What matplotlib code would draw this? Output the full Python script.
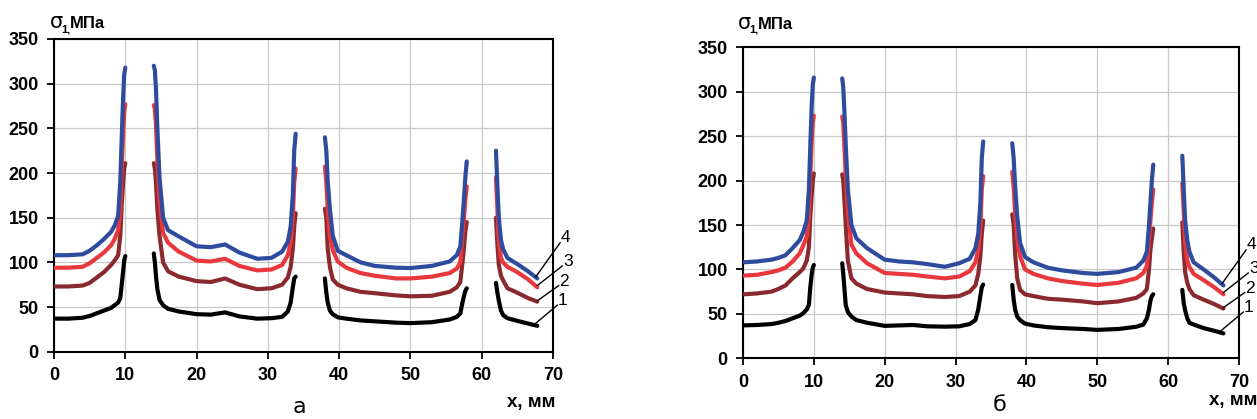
import numpy as np
import matplotlib.pyplot as plt

plt.rcParams['font.family'] = ['Liberation Sans', 'DejaVu Sans']

# x along the plate, mm - four pieces between the holes
gap = [np.nan]
x_seg1 = [0, 2, 4, 5, 6, 7, 8, 8.5, 9, 9.3, 9.5, 9.7, 9.85, 10.0]
x_seg2 = [14.0, 14.15, 14.3, 14.5, 14.8, 15.3, 16, 17.5, 20, 22, 24, 26, 28.5, 30.5, 32, 32.8, 33.2, 33.5, 33.7, 33.9]
x_seg3 = [38.0, 38.2, 38.4, 38.7, 39.1, 39.8, 41, 43, 45, 48, 50, 53, 55.5, 56.5, 57.0, 57.3, 57.5, 57.7, 57.9]
x_seg4 = [62.0, 62.2, 62.4, 62.7, 63.0, 63.6, 65, 66.5, 67.8]
x_mm = x_seg1 + gap + x_seg2 + gap + x_seg3 + gap + x_seg4

# panel "а", sigma_1 in MPa, curves 1..4
a_1 = ([37, 37, 38, 40, 43, 46, 49, 52, 55, 60, 75, 90, 102, 107] + gap
       + [110, 100, 85, 70, 58, 52, 48, 45, 42, 41.5, 44, 39.5, 37, 37.5, 39, 45, 55, 72, 82, 84] + gap
       + [82, 66, 55, 46, 42, 38.5, 37, 35, 34, 32.5, 32, 33, 36, 39, 43, 55, 62, 68, 71] + gap
       + [77, 66, 57, 46, 41, 37.5, 34.5, 31.5, 29])
a_2 = ([73, 73, 74, 77, 83, 89, 97, 102, 108, 130, 165, 190, 205, 211] + gap
       + [211, 205, 190, 160, 130, 100, 90, 84, 79, 78, 82, 75, 70, 71, 75, 83, 95, 115, 140, 155] + gap
       + [160, 150, 115, 95, 81, 75, 71, 67, 65.5, 63, 62, 62.6, 67, 72, 78, 100, 115, 135, 145] + gap
       + [150, 120, 97, 85, 80, 71, 66, 60, 56])
a_3 = ([94, 94, 95, 99, 105, 111, 119, 126, 136, 160, 205, 245, 268, 277] + gap
       + [276, 272, 255, 215, 170, 133, 122, 112, 102, 101, 104, 96, 91, 92, 97, 108, 122, 150, 190, 205] + gap
       + [207, 190, 160, 130, 114, 101, 94, 88, 85, 82, 82, 84, 88, 93, 100, 130, 148, 170, 185] + gap
       + [195, 160, 125, 105, 100, 95, 89, 81, 72])
a_4 = ([108, 108, 109, 113, 119, 126, 134, 141, 152, 190, 240, 285, 310, 318] + gap
       + [320, 315, 295, 250, 195, 150, 136, 129, 118, 117, 120, 111, 104, 105, 112, 123, 140, 175, 225, 244] + gap
       + [240, 225, 190, 160, 130, 113, 108, 100, 96, 94, 93.6, 96, 101, 108, 118, 148, 170, 195, 213] + gap
       + [225, 185, 150, 125, 115, 105, 98, 90, 82])

# panel "б"
b_1 = ([37, 37.5, 38.5, 40, 42, 45, 48, 50.7, 55, 60, 80, 95, 102, 105] + gap
       + [107, 95, 80, 60, 52, 47, 43, 40, 36.5, 37, 37.5, 36, 35.6, 36, 38.6, 43, 55, 70, 80, 83] + gap
       + [82.5, 66, 55, 47, 43, 39, 37, 35, 34, 33, 32, 33, 35.5, 38, 45, 55, 65, 70, 72] + gap
       + [77, 62, 54, 45, 40, 38, 34, 31, 28])
b_2 = ([72, 73, 75, 78, 82, 90, 97, 101, 110, 125, 160, 185, 200, 208] + gap
       + [207, 200, 180, 150, 110, 90, 84, 78, 74, 73, 72, 70, 69, 70, 75, 82, 95, 115, 140, 155] + gap
       + [162, 150, 118, 90, 77, 72, 70, 67, 66, 64, 62, 64, 68, 73, 78, 100, 122, 135, 146] + gap
       + [153, 120, 97, 85, 78, 71, 66, 61, 56])
b_3 = ([93, 94, 97, 99, 102, 109, 118, 127, 137, 160, 205, 245, 265, 273] + gap
       + [272, 265, 240, 205, 165, 128, 118, 107, 96, 95, 94, 92, 90, 92, 98, 108, 122, 150, 190, 205] + gap
       + [210, 192, 165, 135, 115, 100, 95, 90, 87, 84, 82.5, 85, 90, 96, 104, 135, 155, 175, 190] + gap
       + [197, 165, 130, 110, 103, 95, 88, 80, 72])
b_4 = ([108, 109, 111, 113, 116, 124, 133, 142, 155, 190, 240, 285, 308, 316] + gap
       + [315, 305, 280, 240, 190, 150, 135, 124, 111, 109, 108, 106, 103, 107, 112, 124, 140, 175, 225, 244] + gap
       + [242, 225, 195, 160, 130, 114, 108, 102, 99, 96, 95, 97, 102, 110, 120, 150, 175, 200, 218] + gap
       + [228, 190, 155, 133, 120, 108, 100, 91, 82])

curve_names = ['1', '2', '3', '4']
colors = ['black', '#8b2a2e', '#e8383d', '#2e4b9e']

# leader lines to the curve numbers (start, end, text position)
leader_start = [(67.3, 30), (67.8, 57), (67.8, 74), (67.6, 84)]
leader_end = [(70.6, 52), (70.8, 74), (71.3, 96), (71.0, 122)]
label_pos = [(71.3, 57), (71.6, 79), (72.1, 101), (71.8, 128)]

W, H = 1257, 419
fig = plt.figure(figsize=(W / 100, H / 100), dpi=100)
ax_a = fig.add_axes([54 / W, 1 - 351.7 / H, 499 / W, 312.7 / H])
ax_b = fig.add_axes([743 / W, 1 - 358.3 / H, 496 / W, 311 / H])

for ax, curves in [(ax_a, [a_1, a_2, a_3, a_4]), (ax_b, [b_1, b_2, b_3, b_4])]:
    for y, c in zip(curves, colors):
        ax.plot(x_mm, y, color=c, lw=3.0, solid_capstyle='round', solid_joinstyle='round', zorder=3)
    for s, e, p, name in zip(leader_start, leader_end, label_pos, curve_names):
        ax.plot([s[0], e[0]], [s[1], e[1]], color='black', lw=1.0, clip_on=False, zorder=4)
        ax.text(p[0], p[1], name, fontsize=12.5, ha='center', va='center', clip_on=False)
    ax.set_xlim(0, 70)
    ax.set_ylim(0, 350)
    ax.set_xticks(range(0, 71, 10))
    ax.set_yticks(range(0, 351, 50))
    ax.grid(True, color='#c8c8c8', lw=0.9)
    ax.set_axisbelow(True)
    for sp in ax.spines.values():
        sp.set_linewidth(1.5)
    ax.tick_params(direction='out', length=5, width=1.3, labelsize=13, pad=6)
    for lab in ax.get_xticklabels() + ax.get_yticklabels():
        lab.set_fontweight('bold')

# axis captions and panel letters
for x0, y0 in [(50, 28), (738, 29)]:
    fig.text(x0 / W, 1 - y0 / H, 'σ', fontsize=15, family='DejaVu Sans', va='baseline')
    fig.text((x0 + 11) / W, 1 - (y0 + 4) / H, '1,', fontsize=8, fontweight='bold', va='baseline')
    fig.text((x0 + 20) / W, 1 - y0 / H, 'МПа', fontsize=12, fontweight='bold', va='baseline')
fig.text(555 / W, 1 - 402 / H, 'x, мм', fontsize=13.5, fontweight='bold', ha='right', va='center')
fig.text(1257 / W, 1 - 400 / H, 'x, мм', fontsize=13.5, fontweight='bold', ha='right', va='center')
fig.text(299 / W, 1 - 407 / H, 'а', fontsize=16, family='DejaVu Sans', ha='center', va='center')
fig.text(1000 / W, 1 - 405 / H, 'б', fontsize=16, family='DejaVu Sans', ha='center', va='center')

fig.savefig('out.png', dpi=100)
